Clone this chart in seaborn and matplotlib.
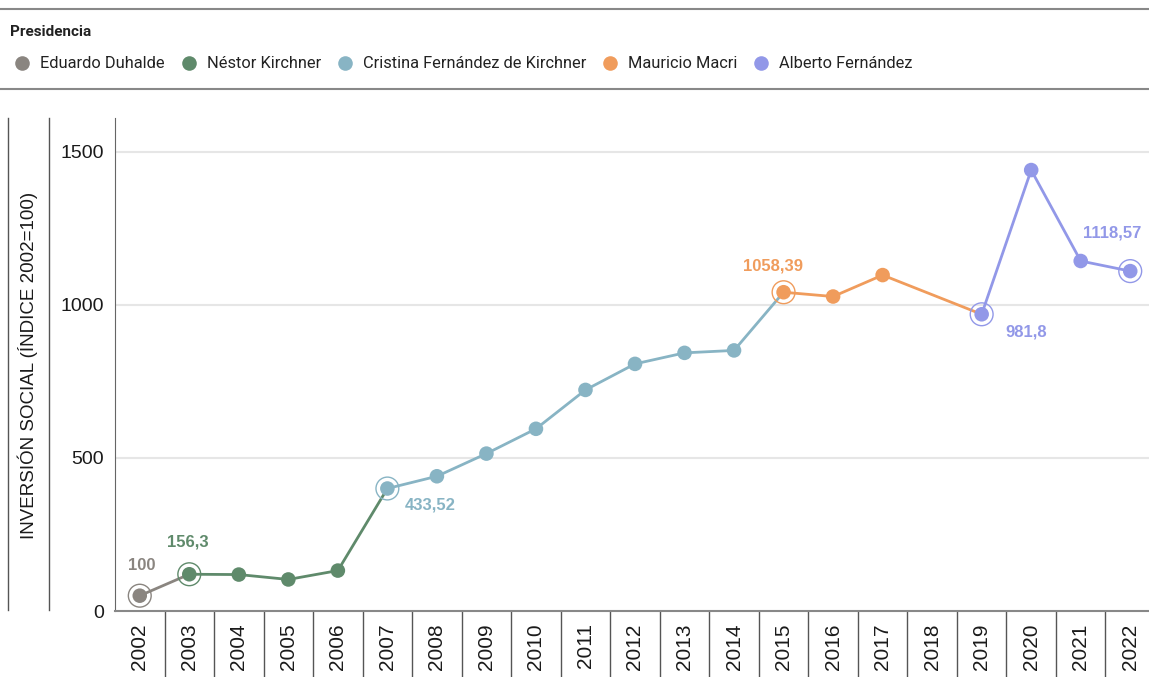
import seaborn as sns
import pandas as pd
import matplotlib.pyplot as plt
from matplotlib.lines import Line2D

# datos
years = [2002, 2003, 2004, 2005, 2006, 2007, 2008, 2009, 2010, 2011,
         2012, 2013, 2014, 2015, 2016, 2017, 2019, 2020, 2021, 2022]
values = [50, 120, 119, 103, 132, 400, 440, 514, 595, 722,
          807, 843, 851, 1041, 1027, 1097, 969, 1440, 1143, 1110]
presidents = ["Eduardo Duhalde", "Néstor Kirchner", "Cristina Fernández de Kirchner",
              "Mauricio Macri", "Alberto Fernández"]
pres_of_point = [0, 1, 1, 1, 1, 2, 2, 2, 2, 2, 2, 2, 2, 3, 3, 3, 4, 4, 4, 4]
colors = ["#8a8580", "#5f8a6b", "#88b4c4", "#f09c5c", "#9298e8"]
all_years = list(range(2002, 2023))

# etiquetas destacadas: año, texto, desplazamiento (px)
label_years = [2002, 2003, 2007, 2015, 2019, 2022]
label_texts = ["100", "156,3", "433,52", "1058,39", "981,8", "1118,57"]
label_offsets = [(2, 30), (-1, 32), (43, -16), (-11, 26), (45, -18), (-18, 38)]
ring_years = [2002, 2003, 2007, 2015, 2019, 2022]

df = pd.DataFrame({"year": years, "value": values,
                   "pres": [presidents[i] for i in pres_of_point]})

fig = plt.figure(figsize=(11.49, 6.77), dpi=100)
ax = fig.add_axes([115 / 1149, 66 / 677, 1040 / 1149, 493 / 677])
palette = dict(zip(presidents, colors))

# lineas por presidencia (hasta el primer punto de la siguiente)
for i, p in enumerate(presidents):
    idx = [k for k, v in enumerate(pres_of_point) if v == i]
    if i + 1 < len(presidents):
        idx.append(idx[-1] + 1)
    seg = df.iloc[idx]
    sns.lineplot(data=seg, x="year", y="value", color=colors[i], lw=2, ax=ax,
                 zorder=3, legend=False)

sns.scatterplot(data=df, x="year", y="value", hue="pres", palette=palette,
                s=110, linewidth=0, ax=ax, zorder=4, legend=False)

ring = df[df["year"].isin(ring_years)]
ax.scatter(ring["year"], ring["value"], s=270, facecolors="none",
           edgecolors=[palette[p] for p in ring["pres"]], linewidths=1, zorder=4)

for yr, txt, (dx, dy) in zip(label_years, label_texts, label_offsets):
    row = df[df["year"] == yr].iloc[0]
    ax.annotate(txt, (yr, row["value"]), xytext=(dx, dy), textcoords="offset pixels",
                ha="center", va="center", fontsize=12, fontweight="bold",
                color=palette[row["pres"]], family="Liberation Sans")

ax.set_xlim(2001.5, 2022.5)
ax.set_ylim(0, 1610)
ax.set_yticks([0, 500, 1000, 1500])
ax.set_yticklabels(["0", "500", "1000", "1500"], fontsize=14, family="Liberation Sans")
ax.set_xticks(all_years)
ax.set_xticklabels([str(y) for y in all_years], rotation=90, fontsize=15,
                   family="Liberation Sans")
ax.tick_params(axis="both", length=0, colors="#1a1a1a")
ax.tick_params(axis="x", pad=9)
ax.tick_params(axis="y", pad=8)
ax.set_xlabel("")
ax.set_ylabel("")
for y in [500, 1000, 1500]:
    ax.axhline(y, color="#e6e6e6", lw=1.5, zorder=1)
for s in ["top", "right"]:
    ax.spines[s].set_visible(False)
ax.spines["left"].set_color("#666666")
ax.spines["bottom"].set_color("#888888")
ax.spines["bottom"].set_linewidth(1.5)

# separadores de años
ax.vlines([y + 0.5 for y in all_years[:-1]], -0.15, 0, transform=ax.get_xaxis_transform(),
          colors="#555555", lw=1, clip_on=False)

# titulo del eje y y lineas decorativas
fig.text(28 / 1149, 1 - 365 / 677, "INVERSIÓN SOCIAL (ÍNDICE 2002=100)", rotation=90,
         ha="center", va="center", fontsize=13.5, family="Liberation Sans", color="#1a1a1a")
for x in [8, 49]:
    fig.add_artist(Line2D([x / 1149, x / 1149], [1 - 118 / 677, 1 - 610 / 677],
                          color="#555555", lw=1))

# cabecera con leyenda
for y in [9, 89]:
    fig.add_artist(Line2D([0, 1], [1 - y / 677, 1 - y / 677], color="#888888", lw=1.5))
fig.text(10 / 1149, 1 - 32 / 677, "Presidencia", ha="left", va="center", fontsize=11,
         fontweight="bold", family="Roboto", color="#222222")
handles = [Line2D([], [], marker="o", ls="", markersize=10.5, color=c, markeredgewidth=0)
           for c in colors]
fig.legend(handles, presidents, loc="center left", bbox_to_anchor=(14 / 1149, 1 - 64 / 677),
           ncol=5, frameon=False, handlelength=1.0, handletextpad=0.6, columnspacing=0.95,
           borderaxespad=0, borderpad=0,
           prop={"family": "Roboto", "size": 11.8}, labelcolor="#222222")

fig.savefig("out.png", dpi=100)
